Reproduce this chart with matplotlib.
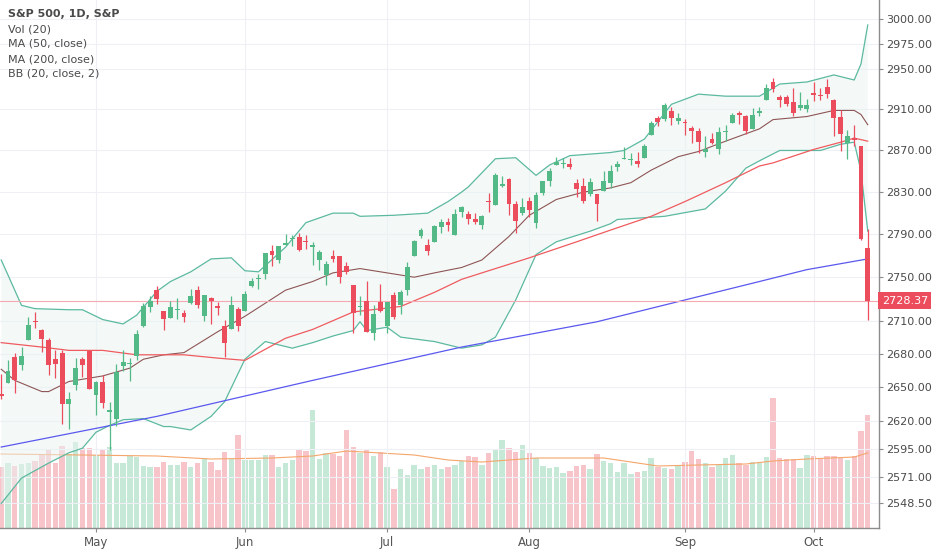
"""
S&P 500 daily candles (Apr 11 - Oct 11 2018) in the TradingView look:
log price scale, volume pane underneath, MA 50/200 and Bollinger bands.

Output: out.png
"""
import numpy as np
import matplotlib
matplotlib.use("Agg")
import matplotlib.pyplot as plt
from matplotlib.ticker import NullLocator
from matplotlib.transforms import blended_transform_factory

# ---- data (one entry per trading day) ----
opens = [2643.6, 2653.8, 2676.9, 2670.1, 2692.7, 2710.1, 2701.2, 2692.6, 2675.4, 2680.8,
         2634.9, 2651.7, 2675.5, 2682.5, 2643.0, 2654.2, 2628.1, 2621.5, 2668.9, 2670.3,
         2678.1, 2705.0, 2722.7, 2738.5, 2718.6, 2712.6, 2719.7, 2717.4, 2726.0, 2738.3,
         2713.9, 2730.9, 2723.6, 2705.1, 2702.4, 2720.9, 2718.7, 2741.7, 2748.5, 2753.3,
         2774.8, 2765.8, 2780.2, 2785.6, 2787.9, 2783.2, 2777.8, 2765.8, 2752.0, 2769.7,
         2769.3, 2760.8, 2742.9, 2722.1, 2728.4, 2698.7, 2727.1, 2705.0, 2733.3, 2724.2,
         2737.7, 2769.8, 2788.6, 2779.8, 2783.1, 2796.9, 2802.0, 2789.3, 2811.4, 2809.4,
         2804.6, 2799.2, 2820.7, 2817.7, 2835.5, 2842.4, 2819.0, 2809.7, 2821.2, 2800.5,
         2829.6, 2840.3, 2855.9, 2856.8, 2857.2, 2838.9, 2835.5, 2827.9, 2828.0, 2831.4,
         2838.3, 2853.9, 2861.5, 2861.0, 2860.3, 2862.4, 2884.7, 2901.5, 2900.6, 2908.9,
         2898.4, 2897.0, 2891.6, 2888.6, 2868.3, 2881.4, 2871.6, 2888.3, 2896.9, 2906.4,
         2903.8, 2890.7, 2906.6, 2919.7, 2936.8, 2921.8, 2921.8, 2917.0, 2911.7, 2910.0,
         2926.3, 2923.8, 2931.7, 2919.4, 2902.5, 2877.5, 2882.5, 2873.9, 2776.9]
highs = [2661.4, 2674.7, 2680.3, 2686.5, 2713.3, 2717.5, 2702.8, 2693.9, 2682.9, 2683.6,
         2645.3, 2676.5, 2677.4, 2682.9, 2655.3, 2660.9, 2637.1, 2670.9, 2683.4, 2676.3,
         2701.3, 2726.1, 2732.9, 2742.1, 2718.6, 2727.8, 2731.2, 2719.5, 2739.2, 2742.2,
         2733.3, 2731.9, 2727.4, 2710.7, 2732.9, 2722.5, 2736.9, 2749.2, 2752.6, 2772.4,
         2779.9, 2779.4, 2790.2, 2789.8, 2791.5, 2789.1, 2782.8, 2774.9, 2765.1, 2774.9,
         2769.3, 2764.2, 2742.9, 2732.9, 2746.1, 2724.3, 2743.3, 2727.3, 2736.6, 2737.8,
         2764.4, 2784.7, 2795.6, 2785.9, 2799.2, 2804.5, 2805.5, 2814.2, 2816.8, 2812.1,
         2809.7, 2808.6, 2829.0, 2848.0, 2845.6, 2843.2, 2821.7, 2824.5, 2825.8, 2829.9,
         2840.4, 2853.3, 2863.4, 2862.4, 2862.5, 2842.2, 2843.4, 2843.1, 2828.0, 2850.5,
         2855.6, 2859.8, 2873.2, 2867.5, 2868.8, 2876.2, 2898.3, 2903.8, 2916.5, 2912.5,
         2906.3, 2900.2, 2894.2, 2892.1, 2883.8, 2886.9, 2892.5, 2894.7, 2906.8, 2908.3,
         2904.7, 2911.2, 2912.4, 2934.8, 2940.9, 2923.8, 2924.0, 2931.2, 2927.2, 2920.5,
         2937.1, 2931.4, 2939.9, 2919.8, 2909.6, 2889.5, 2894.8, 2874.0, 2795.1]
lows = [2639.3, 2653.8, 2645.1, 2665.2, 2692.1, 2703.6, 2681.9, 2660.6, 2657.9, 2617.3,
        2612.7, 2647.2, 2659.0, 2648.0, 2625.4, 2631.7, 2594.6, 2615.3, 2664.7, 2655.2,
        2674.1, 2704.5, 2717.5, 2725.5, 2701.9, 2712.2, 2711.4, 2709.2, 2725.7, 2721.9,
        2709.5, 2707.4, 2714.9, 2676.8, 2702.4, 2700.7, 2718.7, 2740.5, 2739.5, 2748.5,
        2760.2, 2763.6, 2780.2, 2778.8, 2774.7, 2776.5, 2761.7, 2757.1, 2743.2, 2763.9,
        2744.4, 2752.7, 2698.7, 2715.6, 2699.4, 2692.0, 2718.0, 2699.0, 2711.2, 2716.0,
        2733.3, 2769.8, 2786.2, 2770.8, 2783.1, 2791.7, 2793.4, 2789.2, 2805.9, 2799.8,
        2800.0, 2795.1, 2811.1, 2817.7, 2835.3, 2808.3, 2791.5, 2808.1, 2805.9, 2796.3,
        2827.4, 2836.0, 2855.9, 2853.1, 2852.0, 2825.8, 2819.9, 2826.6, 2802.5, 2831.4,
        2833.7, 2850.6, 2861.3, 2856.1, 2854.0, 2862.4, 2884.7, 2893.5, 2898.4, 2895.2,
        2895.8, 2885.1, 2876.9, 2867.3, 2864.1, 2875.9, 2866.8, 2879.2, 2896.4, 2895.8,
        2886.2, 2890.4, 2903.8, 2919.7, 2927.1, 2912.6, 2913.7, 2903.3, 2909.3, 2907.5,
        2917.9, 2919.4, 2921.4, 2883.9, 2869.3, 2862.1, 2874.3, 2784.9, 2710.5]
closes = [2642.2, 2664.0, 2656.3, 2677.8, 2706.4, 2708.6, 2693.1, 2670.1, 2670.3, 2634.6,
          2639.4, 2666.9, 2669.9, 2648.1, 2654.8, 2635.7, 2629.7, 2663.4, 2672.6, 2671.9,
          2697.8, 2723.1, 2727.7, 2730.1, 2711.5, 2722.5, 2720.1, 2713.0, 2733.0, 2724.4,
          2733.3, 2727.8, 2721.3, 2689.9, 2724.0, 2705.3, 2734.6, 2746.9, 2748.8, 2772.4,
          2770.4, 2779.0, 2782.0, 2786.9, 2775.6, 2782.5, 2779.7, 2773.8, 2762.6, 2767.3,
          2749.8, 2754.9, 2717.1, 2723.1, 2699.6, 2716.3, 2718.4, 2726.7, 2713.2, 2736.6,
          2759.8, 2784.2, 2793.8, 2774.0, 2798.3, 2801.3, 2798.4, 2809.6, 2815.6, 2804.5,
          2801.8, 2807.0, 2820.4, 2846.1, 2837.4, 2818.8, 2802.6, 2816.3, 2813.4, 2827.2,
          2840.4, 2850.4, 2858.5, 2857.7, 2853.6, 2833.3, 2821.9, 2840.0, 2818.4, 2840.7,
          2850.1, 2857.1, 2863.0, 2861.8, 2857.0, 2874.7, 2896.7, 2897.5, 2914.0, 2901.1,
          2901.5, 2896.7, 2888.6, 2878.1, 2871.7, 2877.1, 2887.9, 2888.9, 2904.2, 2905.0,
          2888.8, 2904.3, 2908.0, 2930.8, 2929.7, 2919.4, 2915.6, 2906.0, 2914.0, 2914.0,
          2924.6, 2923.4, 2925.5, 2901.6, 2885.6, 2884.4, 2880.3, 2785.7, 2728.37]
# volume, in the pane's own units (height of each bar)
volume = [61, 65, 62, 64, 65, 67, 74, 78, 65, 82,
          74, 86, 80, 80, 73, 78, 81, 65, 65, 72,
          71, 62, 61, 61, 66, 63, 63, 66, 61, 65,
          70, 66, 58, 76, 69, 93, 68, 68, 68, 73,
          73, 61, 65, 68, 78, 77, 118, 69, 75, 74,
          72, 98, 81, 75, 78, 72, 76, 61, 39, 59,
          53, 63, 59, 61, 63, 59, 61, 63, 67, 72,
          71, 63, 75, 78, 88, 80, 76, 83, 75, 70,
          62, 60, 61, 55, 57, 62, 63, 59, 74, 67,
          65, 56, 65, 54, 56, 57, 70, 61, 60, 59,
          62, 66, 77, 69, 65, 61, 63, 70, 73, 65,
          63, 66, 66, 71, 130, 70, 69, 69, 60, 73,
          72, 69, 72, 72, 70, 68, 72, 97, 113]

# indicator lines, sampled at bar positions
bb_upper_x = [0, 1, 3, 5, 10, 12, 15, 18, 20, 23, 25, 28, 31, 34, 36, 38, 42, 45, 49, 52, 53, 58,
              63, 66, 68, 69, 73, 76, 79, 81, 84, 90, 92, 95, 99, 103, 107, 112, 115, 119, 123,
              126, 127, 128]
bb_upper = [2766, 2752, 2724, 2721, 2720, 2720, 2711, 2707, 2715, 2737, 2746, 2755, 2767, 2768,
            2756, 2755, 2778, 2801, 2810, 2810, 2807, 2808, 2810, 2821, 2830, 2835, 2862, 2863,
            2846, 2856, 2865, 2868, 2870, 2881, 2915, 2925, 2923, 2923, 2935, 2937, 2944, 2939,
            2955, 2994]
bb_basis_x = [0, 2, 6, 7, 10, 15, 19, 21, 24, 27, 32, 36, 42, 46, 49, 53, 57, 61, 64, 68, 71, 75,
              78, 82, 86, 90, 93, 96, 100, 103, 107, 112, 114, 119, 123, 126, 127, 128]
bb_basis = [2666, 2656, 2646, 2646, 2655, 2660, 2667, 2675, 2679, 2681, 2700, 2714, 2738, 2746,
            2754, 2758, 2754, 2750, 2754, 2759, 2766, 2788, 2808, 2823, 2830, 2834, 2839, 2851,
            2864, 2869, 2879, 2891, 2900, 2903, 2909, 2909, 2905, 2895]
bb_lower_x = [0, 3, 7, 10, 12, 14, 16, 18, 21, 24, 25, 28, 31, 33, 36, 39, 43, 46, 49, 52, 53, 54,
              57, 59, 64, 68, 69, 71, 73, 76, 79, 82, 87, 90, 91, 98, 104, 107, 110, 112, 115,
              121, 124, 126, 127, 128]
bb_lower = [2548, 2570, 2583, 2592, 2596, 2610, 2616, 2621, 2622, 2615, 2615, 2612, 2624, 2637,
            2675, 2691, 2685, 2690, 2696, 2701, 2709, 2701, 2704, 2695, 2691, 2685, 2686, 2688,
            2695, 2729, 2771, 2783, 2793, 2800, 2804, 2807, 2814, 2831, 2853, 2860, 2870, 2870,
            2876, 2878, 2850, 2793]
ma50_x = [0, 6, 10, 15, 20, 24, 27, 32, 36, 42, 46, 52, 59, 64, 68, 71, 78, 85, 90, 96, 101, 107,
          112, 114, 120, 124, 126, 128]
ma50 = [2690, 2686, 2683, 2683, 2679, 2679, 2679, 2676, 2674, 2694, 2702, 2718, 2723, 2736, 2748,
        2754, 2768, 2783, 2794, 2807, 2821, 2839, 2855, 2858, 2871, 2878, 2882, 2879]
ma200_x = [0, 23, 46, 68, 88, 101, 112, 119, 128]
ma200 = [2597, 2624, 2656, 2686, 2709, 2729, 2746, 2757, 2767]
vol_ma_x = [0, 12, 23, 31, 40, 46, 51, 56, 61, 66, 71, 79, 89, 97, 103, 110, 114, 119, 126, 128]
vol_ma = [74, 73, 72, 69, 70, 72, 77, 75, 73, 68, 66, 70, 70, 62, 63, 64, 67, 69, 71, 75]

month_pos = [14, 36, 57, 78, 101, 120]
month_labels = ["May", "Jun", "Jul", "Aug", "Sep", "Oct"]
price_ticks = [3000, 2975, 2950, 2910, 2870, 2830, 2790, 2750, 2710, 2680, 2650, 2620,
               2595, 2571, 2548.5]
last_close = 2728.37
legend_lines = ["S&P 500, 1D, S&P", "Vol (20)", "MA (50, close)", "MA (200, close)",
                "BB (20, close, 2)"]

UP, DOWN = "#53b987", "#eb4d5c"
VOL_UP, VOL_DOWN = "#c6e8d6", "#f7c4ca"
BAND, BASIS = "#5cb9a0", "#8e5555"
TEXT = "#4a4a4a"
GRID = "#eef0f5"


def main() -> None:
    fig = plt.figure(figsize=(9.32, 5.5), dpi=100)
    ax = fig.add_axes([0, 22 / 550, 879 / 932, 528 / 550])
    ax_v = ax.twinx()
    ax.set_zorder(ax_v.get_zorder() + 1)
    ax.patch.set_visible(False)

    x = np.arange(len(closes))
    o, h, l, c = (np.array(a, dtype=float) for a in (opens, highs, lows, closes))
    up = c >= o

    # volume pane
    ax_v.bar(x, volume, width=0.8, color=np.where(up, VOL_UP, VOL_DOWN), linewidth=0)
    ax_v.plot(vol_ma_x, vol_ma, color="#f5a66b", lw=0.8)
    ax_v.set_ylim(0, 528)
    ax_v.set_yticks([])
    for s in ax_v.spines.values():
        s.set_visible(False)

    # price pane
    ax.set_yscale("log")
    ax.set_ylim(2527.1, 3019.3)
    ax.set_xlim(-0.18, 129.66)

    for p in price_ticks:
        ax.axhline(p, color=GRID, lw=0.8, zorder=0)
    for m in month_pos:
        ax.axvline(m, color=GRID, lw=0.8, zorder=0)

    band_x = np.r_[bb_upper_x, bb_lower_x[::-1]]
    band_y = np.r_[bb_upper, bb_lower[::-1]]
    ax.fill(band_x, band_y, color="#eaf4f2", alpha=0.5, lw=0, zorder=1)
    ax.plot(bb_upper_x, bb_upper, color=BAND, lw=0.9, zorder=2)
    ax.plot(bb_lower_x, bb_lower, color=BAND, lw=0.9, zorder=2)
    ax.plot(bb_basis_x, bb_basis, color=BASIS, lw=0.8, zorder=2)
    ax.plot(ma50_x, ma50, color="#ef5b5f", lw=0.9, zorder=2)
    ax.plot(ma200_x, ma200, color="#5a58ee", lw=0.9, zorder=2)

    ax.axhline(last_close, color="#f5aab2", lw=0.8, zorder=2)

    col = np.where(up, UP, DOWN)
    ax.vlines(x, l, h, colors=col, lw=0.9, zorder=4)
    ax.bar(x, np.maximum(np.abs(c - o), 0.8), bottom=np.minimum(o, c), width=0.72,
           color=col, linewidth=0, zorder=5)

    # axes cosmetics
    for side in ("top", "left"):
        ax.spines[side].set_visible(False)
    for side in ("right", "bottom"):
        ax.spines[side].set_color("#8c8c8c")
        ax.spines[side].set_linewidth(1.0)
    ax.yaxis.tick_right()
    ax.yaxis.set_minor_locator(NullLocator())
    ax.set_yticks(price_ticks, [f"{p:.2f}" for p in price_ticks])
    ax.tick_params(axis="y", length=3, width=0.8, color="#8c8c8c", labelsize=8,
                   labelcolor=TEXT, pad=2)
    ax.set_xticks(month_pos, month_labels)
    ax.tick_params(axis="x", length=3, width=0.8, color="#8c8c8c", labelsize=8.5,
                   labelcolor="#555555", pad=3)

    trans = blended_transform_factory(ax.transAxes, ax.transData)
    ax.text(1.003, last_close, "2728.37", transform=trans, ha="left", va="center",
            color="white", fontsize=8, clip_on=False, zorder=10,
            bbox=dict(boxstyle="square,pad=0.3", fc=DOWN, ec="none"))

    for i, line in enumerate(legend_lines):
        fig.text(8 / 932, 1 - (14 + 15 * i) / 550, line, ha="left", va="center",
                 fontsize=8, color=TEXT, fontweight="bold" if i == 0 else "normal")

    fig.savefig("out.png", dpi=100)
    plt.close(fig)


if __name__ == "__main__":
    main()
